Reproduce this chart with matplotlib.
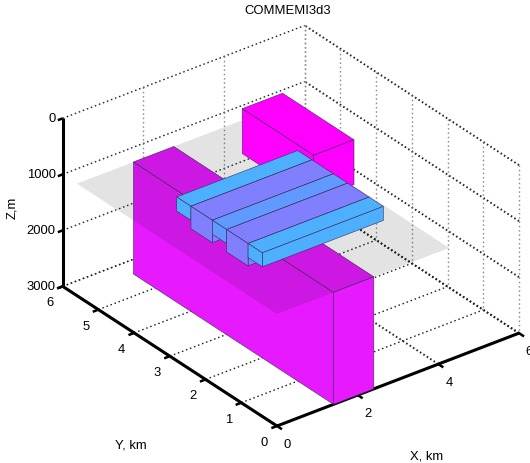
import matplotlib
matplotlib.use("Agg")
import matplotlib.pyplot as plt
from mpl_toolkits.mplot3d import proj3d
from mpl_toolkits.mplot3d.art3d import Poly3DCollection

plt.rcParams['font.family'] = ['Liberation Sans', 'DejaVu Sans']
plt.rcParams['font.size'] = 9.4

x_ticks = [0, 2, 4, 6]
y_ticks = [0, 1, 2, 3, 4, 5, 6]
z_ticks = [0, 1000, 2000, 3000]

# bodies as x0, x1, y0, y1, z_top, z_bottom
front_body = [1.4, 2.4, 0.0, 5.6, 1000, 3000]
back_body = [3.3, 4.3, 2.7, 4.7, 200, 1000]
bars = [
    [0.7, 3.7, 3.2, 3.6, 600, 850],
    [0.7, 3.7, 2.6, 3.2, 600, 1000],
    [0.7, 3.7, 2.2, 2.6, 600, 850],
    [0.7, 3.7, 1.6, 2.2, 600, 1000],
    [0.7, 3.7, 1.2, 1.6, 600, 850],
]
bar_colors = ['#4db0ff', '#8080ff', '#6099ff', '#8080ff', '#4db0ff']
plane = [0.0, 4.27, 0.0, 5.6, 1000]

fig = plt.figure(figsize=(5.3, 4.64), dpi=100)
ax = fig.add_axes([0, 0, 1, 1], projection='3d', computed_zorder=False)
ax.set_proj_type('ortho')
ax.view_init(elev=30, azim=-127.5)
ax.set_box_aspect((305, 352, 194))
ax.set_xlim(0, 6)
ax.set_ylim(0, 6)
ax.set_zlim(3000, 0)
ax.set_axis_off()
ax.patch.set_visible(False)


def to_pixels(x, y, z):
    xs, ys, _ = proj3d.proj_transform(x, y, z, ax.get_proj())
    return ax.transData.transform((xs, ys))


# fit the cube onto the pixel frame of the reference
side = 464.0
for i in range(3):
    ax.set_position([0, 0, side / 530, side / 464])
    ax.apply_aspect()
    p0 = to_pixels(0, 0, 3000)
    p1 = to_pixels(6, 0, 3000)
    side = side * 242 / (p1[0] - p0[0])
    ax.set_position([0, 0, side / 530, side / 464])
    ax.apply_aspect()
    p0 = to_pixels(0, 0, 3000)
    left = (277 - p0[0]) / 530
    bottom = ((464 - 427) - p0[1]) / 464
    ax.set_position([left, bottom, side / 530, side / 464])
    ax.apply_aspect()

# grid looks different per direction in the reference
along_x = dict(color='#222222', lw=1.0, ls=(0, (1.1, 2.0)), zorder=1)
along_y = dict(color='#222222', lw=1.4, ls=(0, (0.8, 1.3)), zorder=1)
upright = dict(color='#8c8c8c', lw=1.0, ls=(0, (1.1, 2.0)), zorder=1)

for z in z_ticks:
    ax.plot([0, 6], [6, 6], [z, z], **along_x)
    ax.plot([6, 6], [0, 6], [z, z], **along_y)
for x in x_ticks:
    ax.plot([x, x], [0, 6], [3000, 3000], **along_y)
    ax.plot([x, x], [6, 6], [0, 3000], **upright)
for y in y_ticks:
    ax.plot([0, 6], [y, y], [3000, 3000], **along_x)
    ax.plot([6, 6], [y, y], [0, 3000], **upright)

# axes and ticks
axis_style = dict(color='black', lw=2.2, zorder=2, solid_capstyle='butt')
ax.plot([0, 6], [0, 0], [3000, 3000], **axis_style)
ax.plot([0, 0], [0, 6], [3000, 3000], **axis_style)
ax.plot([0, 0], [6, 6], [0, 3000], **axis_style)
tick_style = dict(color='black', lw=1.8, zorder=2, solid_capstyle='butt')
for x in x_ticks:
    ax.plot([x, x], [-0.14, 0.02], [3000, 3000], **tick_style)
for y in y_ticks:
    ax.plot([-0.14, 0.02], [y, y], [3000, 3000], **tick_style)
for z in z_ticks:
    ax.plot([-0.12, 0.0], [6, 6], [z, z], **tick_style)


def draw_box(body, color, order):
    x0, x1, y0, y1, z0, z1 = body
    faces = [
        [(x0, y0, z0), (x0, y1, z0), (x0, y1, z1), (x0, y0, z1)],
        [(x0, y0, z0), (x1, y0, z0), (x1, y0, z1), (x0, y0, z1)],
        [(x0, y0, z0), (x1, y0, z0), (x1, y1, z0), (x0, y1, z0)],
    ]
    ax.add_collection3d(Poly3DCollection(faces, facecolors=color, edgecolors='#3a2a5a',
                                         linewidths=0.4, zorder=order))


draw_box(front_body, '#e619ff', 3)
px0, px1, py0, py1, pz = plane
ax.add_collection3d(Poly3DCollection(
    [[(px0, py0, pz), (px1, py0, pz), (px1, py1, pz), (px0, py1, pz)]],
    facecolors=(0.055, 0.055, 0.055, 0.115), edgecolors='none', zorder=4))
draw_box(back_body, '#ff00ff', 5)
for i in range(len(bars)):
    draw_box(bars[i], bar_colors[i], 6 + i)

# tick labels
for x in x_ticks:
    xs, ys, _ = proj3d.proj_transform(x, 0, 3000, ax.get_proj())
    ax.annotate(str(x), xy=(xs, ys), xytext=(10.5, -17.5), textcoords='offset pixels',
                ha='center', va='center', annotation_clip=False)
for y in y_ticks:
    xs, ys, _ = proj3d.proj_transform(0, y, 3000, ax.get_proj())
    ax.annotate(str(y), xy=(xs, ys), xytext=(-12.5, -16), textcoords='offset pixels',
                ha='center', va='center', annotation_clip=False)
for z in z_ticks:
    xs, ys, _ = proj3d.proj_transform(0, 6, z, ax.get_proj())
    ax.annotate(str(z), xy=(xs, ys), xytext=(-7, 0), textcoords='offset pixels',
                ha='right', va='center', annotation_clip=False)

fig.text(288 / 530, 1 - 11 / 464, 'COMMEMI3d3', ha='center', va='center')
fig.text(427 / 530, 1 - 457 / 464, 'X, km', ha='center', va='center')
fig.text(131 / 530, 1 - 446 / 464, 'Y, km', ha='center', va='center')
fig.text(12 / 530, 1 - 208 / 464, 'Z,m', ha='center', va='center', rotation=90)

fig.savefig('out.png', dpi=100)
